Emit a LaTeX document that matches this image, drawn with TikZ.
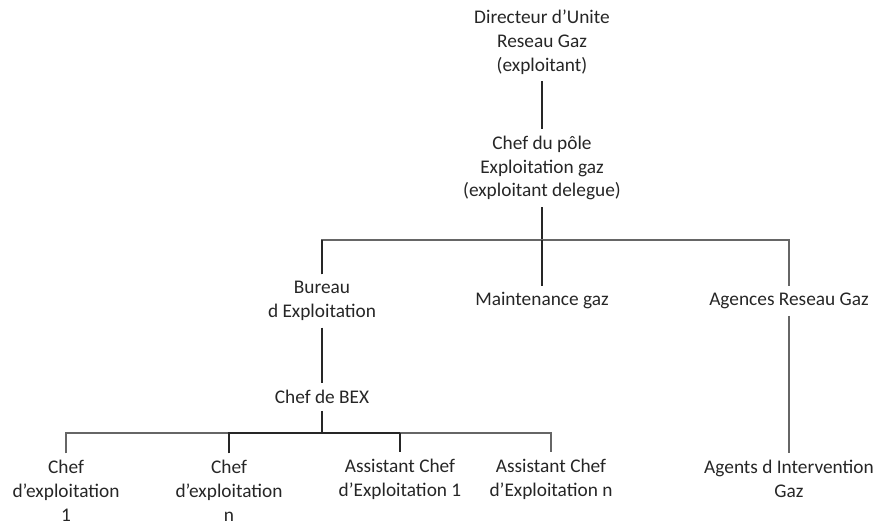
\documentclass[tikz,border=0pt]{standalone}
\usepackage{fontspec}
\setmainfont{Carlito}
\usetikzlibrary{calc}
\tikzset{
  unit/.style={align=center, inner sep=0pt, outer sep=4pt, text=black!85,
    font=\fontsize{11}{13.6}\selectfont},
  darkline/.style={draw=black!85, line width=1.1pt},
  greyline/.style={draw=black!60, line width=1.2pt}
}
\begin{document}
\begin{tikzpicture}[x=0.02cm, y=-0.02cm]
  \useasboundingbox (0,0) rectangle (877,522);
  % top of the chart
  \node[unit] at (542, 42) (dir) {Directeur d'Unite\\Reseau Gaz\\(exploitant)};
  \node[unit] at (542, 168) (pole) {Chef du pôle\\Exploitation gaz\\(exploitant delegue)};
  \node[unit] at (322, 301) (bureau) {Bureau\\d Exploitation};
  \node[unit] at (542, 301) (maint) {Maintenance gaz};
  \node[unit] at (789, 301) (agences) {Agences Reseau Gaz};
  \node[unit] at (322, 397) (bex) {Chef de BEX};
  % bottom row
  \node[unit] at (66, 491) (ce1) {Chef\\d'exploitation\\1};
  \node[unit] at (229, 491) (cen) {Chef\\d'exploitation\\n};
  \node[unit] at (400, 479) (ac1) {Assistant Chef\\d'Exploitation 1};
  \node[unit] at (551, 479) (acn) {Assistant Chef\\d'Exploitation n};
  \node[unit] at (789, 479) (agents) {Agents d Intervention\\Gaz};
  \coordinate (j1) at (542, 240);
  \coordinate (j2) at (322, 433);
  \coordinate (k2) at (229, 433);
  \coordinate (k3) at (400, 433);
  \draw[darkline] (dir) -- (pole);
  \draw[darkline] (pole) -- (j1);
  \draw[greyline] (bureau) |- (j1) -| (agences);
  \draw[darkline] (bureau.north) -- (bureau.north |- j1);
  \draw[darkline] (maint) -- (j1);
  \draw[darkline] (bureau) -- (bex);
  \draw[darkline] (bex) -- (j2);
  \draw[greyline] (agences) -- (agents);
  \draw[greyline] (ce1) |- (k2);
  \draw[greyline] (acn) |- (k3);
  \draw[darkline] (cen) |- (k3);
  \draw[darkline] (ac1.north) -- (k3);
\end{tikzpicture}
\end{document}
